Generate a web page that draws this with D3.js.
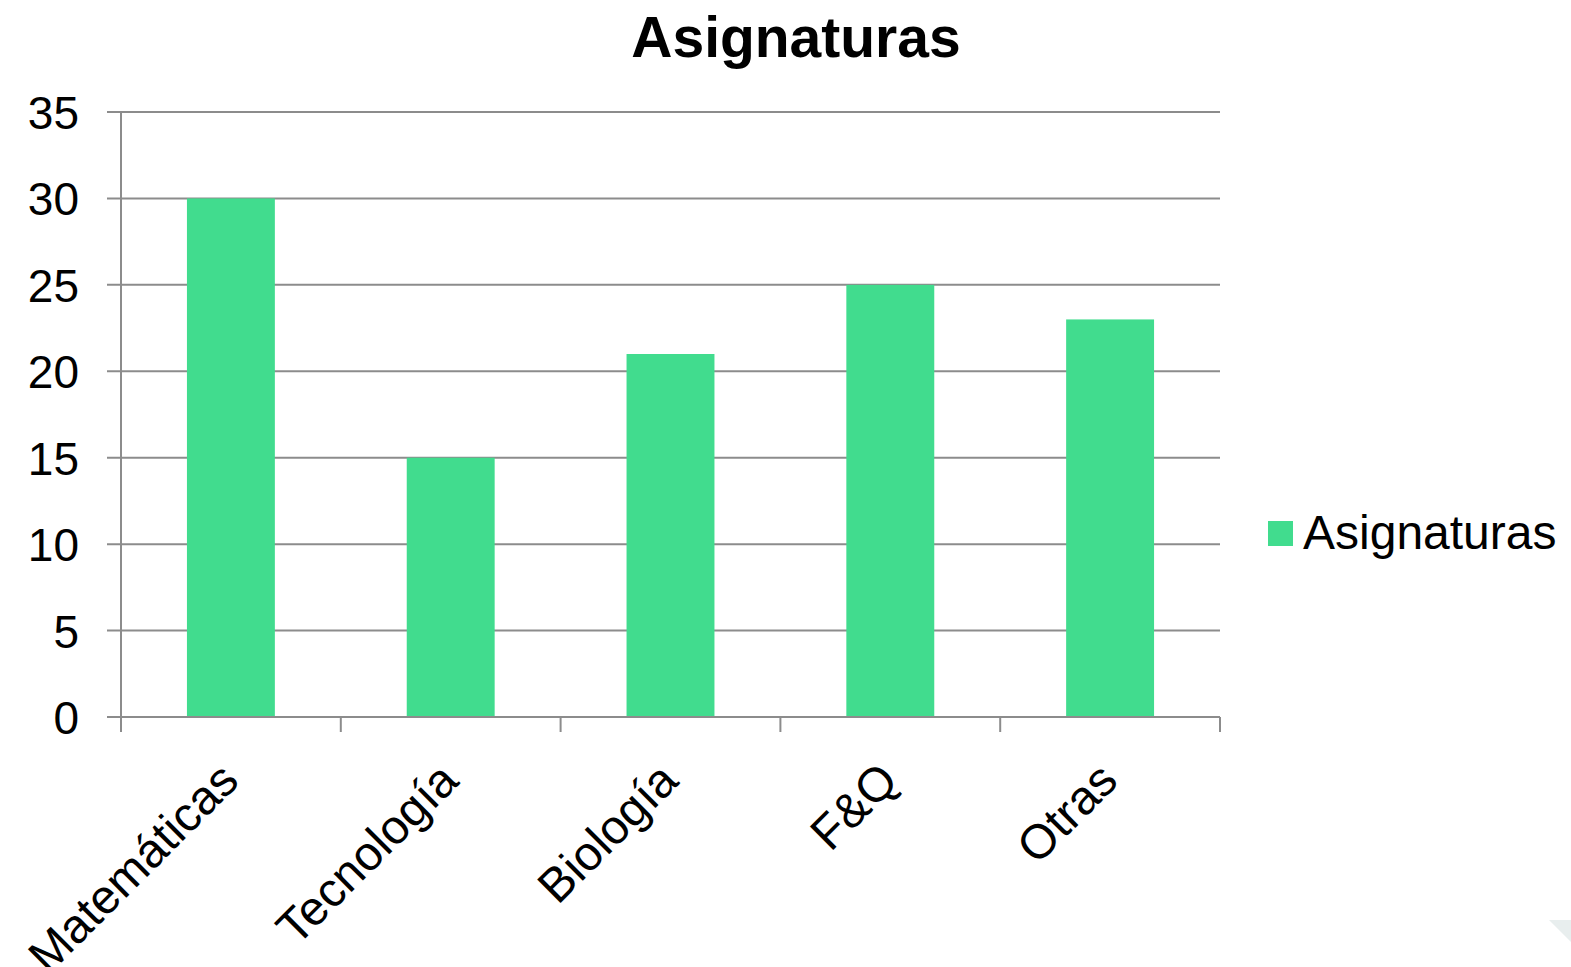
<!DOCTYPE html>
<meta charset="utf-8">
<style>
body {
  margin: 0;
  background: #fff;
  font-family: "Liberation Sans", Arial, Helvetica, sans-serif;
}
html {
  overflow: hidden;
}
.grid line {
  stroke: #8c8c8c;
  stroke-width: 2px;
}
.axis path, .axis line {
  stroke: #8c8c8c;
  stroke-width: 2px;
  fill: none;
}
.axis text {
  fill: #000;
  font-size: 46px;
  font-family: "Liberation Sans", Arial, sans-serif;
}
.axis text.cat {
  font-size: 48px;
}
.title {
  font-size: 57px;
  font-weight: bold;
  text-anchor: middle;
}
.legend text {
  font-size: 48px;
}
</style>
<body>
<script src="https://d3js.org/d3.v7.min.js"></script>
<script>
var categories = ["Matemáticas", "Tecnología", "Biología", "F&Q", "Otras"];
var values = [30, 15, 21, 25, 23];
var yTicks = [0, 5, 10, 15, 20, 25, 30, 35];
var seriesName = "Asignaturas";
var barColor = "#41dc8e";

var W = 1571, H = 967;
var plotLeft = 121, plotRight = 1220, plotTop = 112, plotBottom = 717;

var svg = d3.select("body").append("svg")
    .attr("width", W)
    .attr("height", H);

var x = d3.scaleBand()
    .domain(categories)
    .range([plotLeft, plotRight])
    .paddingInner(0.6)
    .paddingOuter(0.3);

// plain band (no padding) for category boundaries
var xb = d3.scaleBand()
    .domain(categories)
    .range([plotLeft, plotRight]);

var y = d3.scaleLinear()
    .domain([0, 35])
    .range([plotBottom, plotTop]);

// gridlines
svg.append("g")
    .attr("class", "grid")
    .selectAll("line")
    .data(yTicks)
    .enter().append("line")
    .attr("x1", plotLeft - 14)
    .attr("x2", plotRight)
    .attr("y1", function(d) { return y(d); })
    .attr("y2", function(d) { return y(d); });

// bars
svg.append("g")
    .selectAll("rect")
    .data(values)
    .enter().append("rect")
    .attr("x", function(d, i) { return x(categories[i]); })
    .attr("width", x.bandwidth())
    .attr("y", function(d) { return y(d); })
    .attr("height", function(d) { return y(0) - y(d); })
    .attr("fill", barColor);

// y axis
var yAxis = d3.axisLeft(y)
    .tickValues(yTicks)
    .tickSize(0)
    .tickPadding(42);

svg.append("g")
    .attr("class", "axis")
    .attr("transform", "translate(" + plotLeft + ",0)")
    .call(yAxis)
    .call(function(g) { g.select(".domain").attr("d", "M0," + plotTop + "V" + plotBottom); })
    .selectAll("text")
    .attr("dy", "0.36em");

// x axis baseline and boundary ticks
var xg = svg.append("g").attr("class", "axis");

xg.append("line")
    .attr("x1", plotLeft - 14)
    .attr("x2", plotRight)
    .attr("y1", plotBottom)
    .attr("y2", plotBottom);

var bounds = categories.map(function(c) { return xb(c); }).concat([plotRight]);
xg.selectAll("line.tick")
    .data(bounds)
    .enter().append("line")
    .attr("class", "tick")
    .attr("x1", function(d) { return d; })
    .attr("x2", function(d) { return d; })
    .attr("y1", plotBottom)
    .attr("y2", plotBottom + 15);

// category labels, rotated
xg.selectAll("text")
    .data(categories)
    .enter().append("text")
    .attr("class", "cat")
    .attr("text-anchor", "end")
    .attr("transform", function(d) {
      var cx = xb(d) + xb.bandwidth() / 2 + 10;
      return "translate(" + cx + "," + (plotBottom + 66) + ") rotate(-45)";
    })
    .text(function(d) { return d; });

// title
svg.append("text")
    .attr("class", "title")
    .attr("x", 796)
    .attr("y", 57)
    .text(seriesName);

// legend
var legend = svg.append("g")
    .attr("class", "legend")
    .attr("transform", "translate(1268,521)");

legend.append("rect")
    .attr("width", 25)
    .attr("height", 25)
    .attr("fill", barColor);

legend.append("text")
    .attr("x", 35)
    .attr("y", 28)
    .text(seriesName);

// slide corner decoration
svg.append("polygon")
    .attr("points", "1549,920 1571,920 1571,942")
    .attr("fill", "#e8eeee");
</script>
</body>
